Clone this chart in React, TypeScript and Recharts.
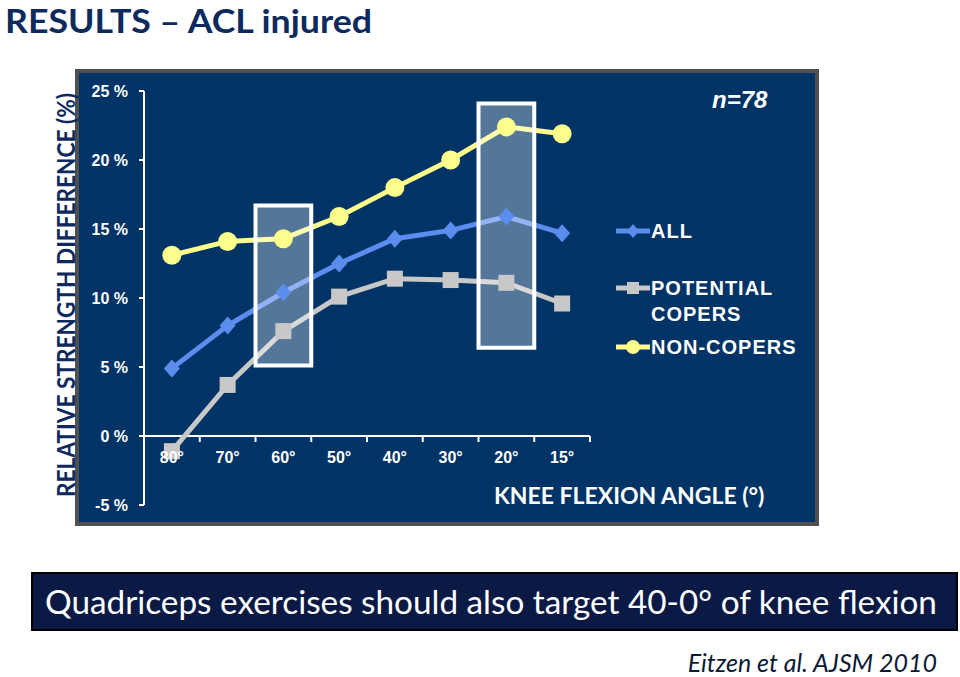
import React from "react";
import { LineChart, Line, XAxis, YAxis, ReferenceLine, ReferenceArea } from "recharts";

const angles = ["80°", "70°", "60°", "50°", "40°", "30°", "20°", "15°"];
const allValues = [4.9, 8.0, 10.4, 12.5, 14.3, 14.9, 15.9, 14.7];
const copersValues = [-1.1, 3.7, 7.6, 10.1, 11.4, 11.3, 11.1, 9.6];
const nonCopersValues = [13.1, 14.1, 14.3, 15.9, 18.0, 20.0, 22.4, 21.9];
const yTicks = [-5, 0, 5, 10, 15, 20, 25];
const highlights = [
  { angle: "60°", from: 5.1, to: 16.7 },
  { angle: "20°", from: 6.4, to: 24.1 },
];

const BLUE = "#5b8def";
const GREY = "#c8c8c8";
const YELLOW = "#fdfd8c";
const NAVY = "#003366";
const TITLE_BLUE = "#0c2a5e";

const data = angles.map((a, i) => ({
  angle: a,
  all: allValues[i],
  copers: copersValues[i],
  noncopers: nonCopersValues[i],
}));

// chart geometry
const W = 740;
const H = 453;
const margin = { top: 20, right: 227, bottom: 18, left: 7 };
const yAxisW = 60;
const xAxisH = 1;
const plotW = W - margin.left - margin.right - yAxisW;
const plotH = H - margin.top - margin.bottom - xAxisH;
const yMin = -5;
const yMax = 25;
const zeroShift = (plotH * (0 - yMin)) / (yMax - yMin);
const band = plotW / angles.length;

const Diamond = (p: any) => (
  <polygon
    key={`d-${p.index}`}
    points={`${p.cx},${p.cy - 9} ${p.cx + 8},${p.cy} ${p.cx},${p.cy + 9} ${p.cx - 8},${p.cy}`}
    fill={BLUE}
  />
);
const Square = (p: any) => (
  <rect key={`s-${p.index}`} x={p.cx - 8} y={p.cy - 8} width={16} height={16} fill={GREY} />
);
const Dot = (p: any) => <circle key={`c-${p.index}`} cx={p.cx} cy={p.cy} r={9.5} fill={YELLOW} />;

const XTick = (props: any) => {
  const { x, y, index } = props;
  const y0 = y - zeroShift;
  return (
    <g>
      <line x1={x - band / 2} x2={x - band / 2} y1={y0} y2={y0 + 6} stroke="#fff" strokeWidth={2} />
      {index === angles.length - 1 && (
        <line x1={x + band / 2} x2={x + band / 2} y1={y0} y2={y0 + 6} stroke="#fff" strokeWidth={2} />
      )}
      <text
        x={x}
        y={y0 + 27}
        textAnchor="middle"
        fill="#fff"
        fontFamily="Liberation Sans, Arial, sans-serif"
        fontWeight="bold"
        fontSize={16}
      >
        {props.payload.value}
      </text>
    </g>
  );
};

const legendItems = [
  { label: ["ALL"], color: BLUE, shape: "diamond", top: 218 },
  { label: ["POTENTIAL", "COPERS"], color: GREY, shape: "square", top: 275 },
  { label: ["NON-COPERS"], color: YELLOW, shape: "circle", top: 334 },
];

export default function App() {
  return (
    <div
      style={{
        position: "absolute",
        left: 0,
        top: 0,
        width: 960,
        height: 677,
        background: "#fff",
        overflow: "hidden",
        fontFamily: "Lato, sans-serif",
      }}
    >
      <div
        style={{
          position: "absolute",
          left: 75,
          top: 69,
          width: 744,
          height: 457,
          boxSizing: "border-box",
          border: "4px solid #505050",
          background: NAVY,
        }}
      />

      <div style={{ position: "absolute", left: 77, top: 71 }}>
        <LineChart width={W} height={H} data={data} margin={margin}>
          <XAxis
            dataKey="angle"
            scale="band"
            height={xAxisH}
            axisLine={false}
            tickLine={false}
            tickSize={0}
            tickMargin={0}
            interval={0}
            tick={<XTick />}
          />
          <YAxis
            width={yAxisW}
            domain={[yMin, yMax]}
            ticks={yTicks}
            type="number"
            allowDataOverflow
            axisLine={{ stroke: "#fff", strokeWidth: 2 }}
            tickLine={{ stroke: "#fff", strokeWidth: 2 }}
            tickSize={5}
            tickMargin={11}
            tickFormatter={(v: number) => `${v} %`}
            tick={{
              fill: "#fff",
              fontSize: 16,
              fontWeight: "bold",
              fontFamily: "Liberation Sans, Arial, sans-serif",
            }}
          />
          <ReferenceLine y={0} stroke="#fff" strokeWidth={2} />
          <Line
            dataKey="all"
            stroke={BLUE}
            strokeWidth={5}
            dot={Diamond}
            activeDot={false}
            isAnimationActive={false}
          />
          <Line
            dataKey="copers"
            stroke={GREY}
            strokeWidth={5}
            dot={Square}
            activeDot={false}
            isAnimationActive={false}
          />
          <Line
            dataKey="noncopers"
            stroke={YELLOW}
            strokeWidth={5}
            dot={Dot}
            activeDot={false}
            isAnimationActive={false}
          />
          {highlights.map((h) => (
            <ReferenceArea
              key={h.angle}
              x1={h.angle}
              x2={h.angle}
              y1={h.from}
              y2={h.to}
              fill="#ffffff"
              fillOpacity={0.33}
              stroke="#ffffff"
              strokeWidth={4}
              {...({ zIndex: 450 } as any)}
            />
          ))}
        </LineChart>
      </div>

      <svg
        width={960}
        height={677}
        style={{ position: "absolute", left: 0, top: 0, pointerEvents: "none" }}
      >
        <text
          x={5}
          y={33}
          fontFamily="Lato, sans-serif"
          fontWeight="bold"
          fontSize={33}
          fill={TITLE_BLUE}
          textLength={367}
          lengthAdjust="spacingAndGlyphs"
        >
          RESULTS – ACL injured
        </text>
        <text
          transform="translate(75,295) rotate(-90)"
          textAnchor="middle"
          fontFamily="Lato, sans-serif"
          fontWeight="bold"
          fontSize={24}
          fill={TITLE_BLUE}
          textLength={404}
          lengthAdjust="spacingAndGlyphs"
        >
          RELATIVE STRENGTH DIFFERENCE (%)
        </text>
      </svg>

      <div
        style={{
          position: "absolute",
          left: 712,
          top: 86,
          color: "#fff",
          fontFamily: "Liberation Sans, Arial, sans-serif",
          fontWeight: 700,
          fontStyle: "italic",
          fontSize: 24,
        }}
      >
        n=78
      </div>

      {legendItems.map((it) => (
        <div
          key={it.label[0]}
          style={{ position: "absolute", left: 615, top: it.top, display: "flex", alignItems: "flex-start" }}
        >
          <svg width={36} height={26} style={{ display: "block" }}>
            <line x1={1} x2={35} y1={13} y2={13} stroke={it.color} strokeWidth={5} />
            {it.shape === "diamond" && <polygon points="18,6 24,13 18,20 12,13" fill={it.color} />}
            {it.shape === "square" && <rect x={12} y={7} width={12} height={12} fill={it.color} />}
            {it.shape === "circle" && <circle cx={18} cy={13} r={7} fill={it.color} />}
          </svg>
          <div
            style={{
              color: "#fff",
              fontFamily: "Liberation Sans, Arial, sans-serif",
              fontWeight: 700,
              fontSize: 20,
              letterSpacing: 1,
              lineHeight: "26px",
            }}
          >
            {it.label.map((l) => (
              <div key={l}>{l}</div>
            ))}
          </div>
        </div>
      ))}

      <div
        style={{
          position: "absolute",
          left: 494,
          top: 481,
          color: "#fff",
          fontWeight: 700,
          fontSize: 23,
          whiteSpace: "nowrap",
        }}
      >
        KNEE FLEXION ANGLE (°)
      </div>

      <div
        style={{
          position: "absolute",
          left: 31,
          top: 572,
          width: 927,
          height: 59,
          boxSizing: "border-box",
          background: "#0a1a45",
          border: "2px solid #000",
          color: "#fff",
          fontSize: 33.3,
          lineHeight: "55px",
          paddingLeft: 12,
          whiteSpace: "nowrap",
        }}
      >
        Quadriceps exercises should also target 40-0° of knee flexion
      </div>

      <div
        style={{
          position: "absolute",
          right: 23,
          top: 647,
          color: "#0a1a35",
          fontStyle: "italic",
          fontSize: 25,
          whiteSpace: "nowrap",
        }}
      >
        Eitzen et al. AJSM 2010
      </div>
    </div>
  );
}
